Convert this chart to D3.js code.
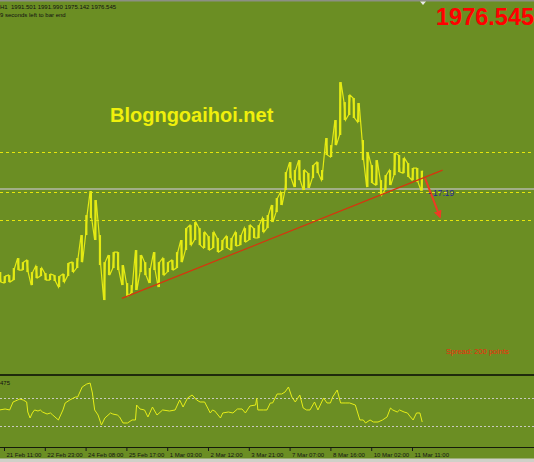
<!DOCTYPE html>
<html lang="en">
<head>
<meta charset="utf-8">
<title>XAUUSD H1</title>
<style>
    html, body { margin: 0; padding: 0; background: #6b8e23; }
    svg { display: block; }
    text { font-family: "Liberation Sans", Arial, sans-serif; }
</style>
<script src="https://cdn.jsdelivr.net/npm/d3@7"></script>
</head>
<body>
<div id="chart"></div>
<script>
// time axis: one label every 36 H1 bars
var tickBars = [0, 36, 72, 108, 144, 180, 216, 252, 288, 324, 360];
var tickLabels = ["21 Feb 11:00", "22 Feb 23:00", "24 Feb 08:00", "25 Feb 17:00", "1 Mar 03:00",
    "2 Mar 12:00", "3 Mar 21:00", "7 Mar 07:00", "8 Mar 16:00", "10 Mar 02:00", "11 Mar 11:00"];

// price, one high/low pair every 4 bars starting at bar -4
var priceHigh = [1906.3, 1902.9, 1903.7, 1909.7, 1918.1, 1914.7, 1916.4, 1906.3, 1911.4, 1909.7,
    1905.4, 1904.6, 1903.7, 1902.9, 1904.6, 1913.9, 1914.7, 1918.1, 1937.6, 1954.5,
    1974.8, 1967.2, 1937.6, 1914.7, 1920.7, 1923.2, 1923.2, 1912.2, 1897.0, 1895.3,
    1924.9, 1920.7, 1914.7, 1909.7, 1923.2, 1914.7, 1918.1, 1914.7, 1916.4, 1923.2,
    1933.4, 1943.5, 1946.0, 1948.6, 1943.5, 1940.1, 1936.7, 1940.1, 1935.1, 1933.4,
    1936.7, 1935.1, 1940.1, 1937.6, 1943.5, 1946.0, 1943.5, 1946.0, 1952.0, 1954.5,
    1963.0, 1968.9, 1974.0, 1990.9, 1999.3, 1992.6, 2001.0, 1992.6, 1990.0, 1996.8,
    1999.3, 1992.6, 2019.7, 2013.7, 2034.9, 2067.0, 2050.1, 2056.0, 2053.5, 2049.3,
    2018.0, 2007.0, 1996.8, 2001.0, 1984.1, 1988.3, 1992.6, 2007.0, 2005.3, 2002.7,
    1998.5, 1994.3, 1994.3, 1991.99];
var priceLow = [1897.8, 1897.0, 1897.8, 1899.5, 1908.0, 1908.0, 1906.3, 1895.3, 1901.2, 1902.9,
    1899.5, 1899.5, 1898.7, 1893.6, 1897.8, 1902.9, 1906.3, 1909.7, 1914.7, 1937.6,
    1952.0, 1933.4, 1912.2, 1882.6, 1903.7, 1909.7, 1908.0, 1895.3, 1886.0, 1888.5,
    1891.1, 1906.3, 1903.7, 1897.0, 1908.0, 1893.6, 1903.7, 1906.3, 1908.0, 1909.7,
    1914.7, 1924.9, 1929.1, 1933.4, 1929.1, 1926.6, 1924.9, 1926.6, 1923.2, 1924.9,
    1926.6, 1924.9, 1928.3, 1929.1, 1931.7, 1933.4, 1935.1, 1935.1, 1940.1, 1943.5,
    1948.6, 1957.0, 1963.0, 1975.7, 1985.8, 1978.2, 1984.1, 1975.7, 1977.4, 1985.8,
    1990.0, 1984.1, 2005.3, 2003.6, 2013.7, 2022.2, 2034.9, 2039.1, 2036.6, 2033.2,
    2001.0, 1978.2, 1981.6, 1979.9, 1971.4, 1975.7, 1979.9, 1988.3, 1990.9, 1990.0,
    1986.7, 1984.1, 1982.4, 1975.142];

var levels = [2008, 1974, 1950];
var bid = 1976.545;
var trendBars = [104, 387], trendPrices = [1884, 1992.5];
var arrowBars = [371.5, 384.7], arrowPrices = [1985.8, 1952.8];

// oscillator (0-100) in the lower window
var oscBar = [-4, 1, 5, 8, 12, 14, 17, 20, 21, 23, 25, 27, 30, 32, 34, 38, 41, 43, 48, 52,
    54, 58, 63, 65, 69, 73, 76, 78, 80, 83, 86, 89, 94, 96, 100, 102, 105, 109, 113, 116,
    117, 120, 124, 127, 131, 135, 140, 146, 151, 155, 158, 162, 166, 170, 173, 177, 182, 184, 186, 191,
    193, 198, 202, 206, 210, 213, 217, 222, 223, 224, 229, 232, 235, 237, 241, 245, 248, 251, 254, 257,
    261, 264, 267, 270, 274, 277, 282, 285, 288, 290, 294, 297, 301, 305, 310, 314, 317, 319, 323, 326,
    330, 334, 338, 341, 343, 347, 349, 353, 356, 358, 361, 364, 367, 369];
var oscVal = [52.9, 54.3, 52.9, 64.3, 67.1, 68.6, 67.1, 64.3, 50, 41.4, 48.6, 52.9, 51.4, 52.9, 50, 47.1, 48.6, 45.7, 38.6, 52.9,
    62.9, 67.1, 71.4, 71.4, 85.7, 90, 91.4, 77.1, 52.9, 45.7, 31.4, 41.4, 48.6, 47.1, 45.7, 42.9, 34.3, 34.3, 38.6, 38.6,
    60, 54.3, 52.9, 42.9, 57.1, 45.7, 52.9, 51.4, 52.9, 67.1, 57.1, 70, 74.3, 67.1, 64.3, 64.3, 48.6, 52.9, 51.4, 41.4,
    48.6, 50, 48.6, 54.3, 54.3, 48.6, 58.6, 60, 70, 52.9, 52.9, 52.9, 62.9, 62.9, 75.7, 75.7, 78.6, 85.7, 71.4, 64.3,
    74.3, 55.7, 52.9, 52.9, 64.3, 52.9, 70, 62.9, 62.9, 71.4, 81.4, 62.9, 62.9, 62.9, 60, 38.6, 38.6, 34.3, 38.6, 35.7,
    35.7, 38.6, 42.9, 55.7, 52.9, 50, 52.9, 50, 48.6, 44.3, 38.6, 48.6, 48.6, 35.7];
var oscLevels = [70, 30];

var W = 534, H = 462;
var x = d3.scaleLinear().domain([0, 360]).range([4, 412]);
var y = d3.scaleLinear().domain([1950, 2067]).range([220.4, 82.1]);
var yo = d3.scaleLinear().domain([0, 100]).range([447, 377]);

var svg = d3.select("#chart").append("svg")
    .attr("width", W)
    .attr("height", H);

svg.append("rect").attr("width", W).attr("height", H).attr("fill", "#6b8e23");

// window frame
svg.append("rect").attr("x", 0).attr("y", 0).attr("width", W).attr("height", 1.5).attr("fill", "#8c8f84");
svg.append("path").attr("d", "M420,1.5L426,1.5L423,5Z").attr("fill", "#e8e8e8");
svg.append("rect").attr("x", 0).attr("y", 374).attr("width", W).attr("height", 2).attr("fill", "#1f2a0c");
svg.append("rect").attr("x", 0).attr("y", 458.5).attr("width", W).attr("height", 4).attr("fill", "#cfd0c8");

var main = svg.append("g");

// support / resistance levels
main.selectAll(".lvl").data(levels).enter().append("line")
    .attr("class", "lvl")
    .attr("x1", 0).attr("x2", W)
    .attr("y1", function (d) { return Math.round(y(d)) + 0.5; })
    .attr("y2", function (d) { return Math.round(y(d)) + 0.5; })
    .attr("stroke", "#e6e60c")
    .attr("stroke-dasharray", "3,3");

main.append("line")
    .attr("x1", 0).attr("x2", W)
    .attr("y1", y(bid)).attr("y2", y(bid))
    .attr("stroke", "#b4b8aa")
    .attr("stroke-width", 1.6);

// price bars
var pts = [];
priceHigh.forEach(function (h, i) {
    var bx = x(-4 + 4 * i);
    if (i % 2 === 0) {
        pts.push([bx, y(h)], [bx + 1.5, y(priceLow[i])]);
    } else {
        pts.push([bx, y(priceLow[i])], [bx + 1.5, y(h)]);
    }
});
main.append("g").selectAll("line").data(priceHigh).enter().append("line")
    .attr("x1", function (d, i) { return x(-4 + 4 * i) + 0.75; })
    .attr("x2", function (d, i) { return x(-4 + 4 * i) + 0.75; })
    .attr("y1", function (d) { return y(d); })
    .attr("y2", function (d, i) { return y(priceLow[i]); })
    .attr("stroke", "#e4ea14")
    .attr("stroke-width", 2.2);
main.append("path")
    .attr("d", d3.line()(pts))
    .attr("fill", "none")
    .attr("stroke", "#e4ea14")
    .attr("stroke-width", 1.2);

// trend line and arrow
main.append("line")
    .attr("x1", x(trendBars[0])).attr("y1", y(trendPrices[0]))
    .attr("x2", x(trendBars[1])).attr("y2", y(trendPrices[1]))
    .attr("stroke", "#d8340e")
    .attr("stroke-width", 1.2);

svg.append("defs").append("marker")
    .attr("id", "head")
    .attr("viewBox", "0 0 10 10")
    .attr("refX", 8).attr("refY", 5)
    .attr("markerWidth", 4).attr("markerHeight", 4)
    .attr("orient", "auto")
    .append("path").attr("d", "M0,0L10,5L0,10Z").attr("fill", "#f03a24");
main.append("line")
    .attr("x1", x(arrowBars[0])).attr("y1", y(arrowPrices[0]))
    .attr("x2", x(arrowBars[1])).attr("y2", y(arrowPrices[1]))
    .attr("stroke", "#f03a24")
    .attr("stroke-width", 2)
    .attr("marker-end", "url(#head)");

main.append("text").attr("x", 428).attr("y", 196)
    .attr("font-size", 8.4).attr("fill", "#2a2a9a")
    .text("- 17:19");

// labels
svg.append("text").attr("x", 0).attr("y", 9)
    .attr("font-size", 6).attr("fill", "#111")
    .attr("xml:space", "preserve")
    .text("H1  1991.501 1991.990 1975.142 1976.545");
svg.append("text").attr("x", 0).attr("y", 17)
    .attr("font-size", 6).attr("fill", "#111")
    .text("9 seconds left to bar end");
svg.append("text").attr("x", 436).attr("y", 25)
    .attr("font-size", 23.5).attr("font-weight", "bold").attr("fill", "#ff0000")
    .text("1976.545");
svg.append("text").attr("x", 110).attr("y", 122)
    .attr("font-size", 20).attr("font-weight", "bold").attr("fill", "#f0f00c")
    .text("Blogngoaihoi.net");
svg.append("text").attr("x", 446).attr("y", 354)
    .attr("font-size", 7.5).attr("fill", "#ee2a0c")
    .text("Spread: 200 points");

// oscillator window
var sub = svg.append("g");
sub.selectAll(".olvl").data(oscLevels).enter().append("line")
    .attr("class", "olvl")
    .attr("x1", 0).attr("x2", W)
    .attr("y1", function (d) { return Math.round(yo(d)) + 0.5; })
    .attr("y2", function (d) { return Math.round(yo(d)) + 0.5; })
    .attr("stroke", "#c8cabe")
    .attr("stroke-dasharray", "2,2");
sub.append("path")
    .datum(oscBar)
    .attr("d", d3.line()
        .x(function (d) { return x(d); })
        .y(function (d, i) { return yo(oscVal[i]); }))
    .attr("fill", "none")
    .attr("stroke", "#e6ee18")
    .attr("stroke-width", 1);
sub.append("text").attr("x", 0).attr("y", 385)
    .attr("font-size", 6).attr("fill", "#111")
    .text("475");

// time axis
var axis = d3.axisBottom(x)
    .tickValues(tickBars)
    .tickFormat(function (d, i) { return tickLabels[i]; })
    .tickSize(4)
    .tickSizeOuter(0);
var ax = svg.append("g").attr("transform", "translate(0,447)").call(axis);
ax.select(".domain").remove();
ax.selectAll(".tick line").attr("stroke", "#1a1a1a");
ax.selectAll(".tick text")
    .attr("text-anchor", "start")
    .attr("x", 2).attr("y", 10).attr("dy", 0)
    .attr("font-family", "Liberation Sans, Arial, sans-serif")
    .attr("font-size", 6).attr("fill", "#151515");
svg.append("line")
    .attr("x1", 0).attr("x2", W).attr("y1", 447.5).attr("y2", 447.5)
    .attr("stroke", "#161c0a").attr("stroke-width", 1.2);
</script>
</body>
</html>
